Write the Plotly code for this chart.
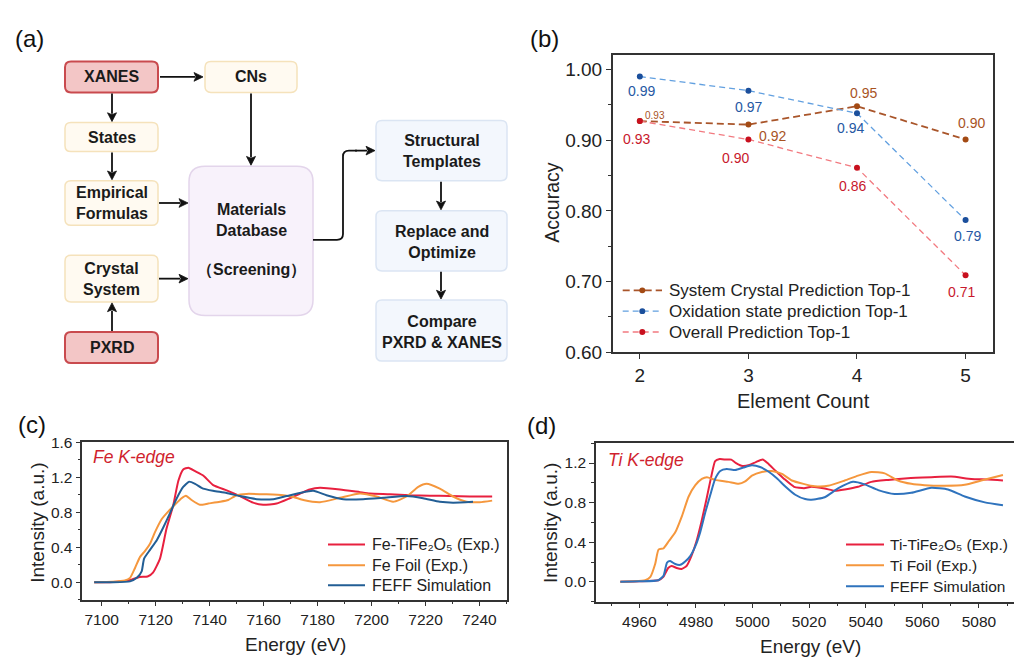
import math
import plotly.graph_objects as go

# ---------------- data ----------------
element_count = [2, 3, 4, 5]
system_crystal = [0.927, 0.922, 0.948, 0.901]
oxidation_state = [0.990, 0.970, 0.938, 0.787]
overall = [0.927, 0.901, 0.861, 0.709]
system_crystal_labels = ["0.93", "0.92", "0.95", "0.90"]
oxidation_labels = ["0.99", "0.97", "0.94", "0.79"]
overall_labels = ["0.93", "0.90", "0.86", "0.71"]

fe_sample_e = [7097.2, 7103, 7107.6, 7111, 7114, 7117, 7119, 7121.6, 7124, 7126.5, 7128.4, 7130.2, 7132.1,
               7134.6, 7137.6, 7141.3, 7146.3, 7151.2, 7156.1, 7159.8, 7164.8, 7169.7, 7173.4, 7177.1,
               7180.9, 7188.3, 7195.7, 7199.4, 7206.8, 7214.2, 7221.6, 7229, 7236.4, 7244.7]
fe_sample_i = [0.0, 0.0, 0.01, 0.03, 0.06, 0.065, 0.11, 0.27, 0.61, 0.88, 1.16, 1.29, 1.31,
               1.27, 1.22, 1.11, 1.05, 0.985, 0.91, 0.885, 0.90, 0.96, 1.01, 1.06,
               1.08, 1.06, 1.03, 1.015, 1.007, 0.995, 0.99, 0.985, 0.98, 0.98]

fe_foil_e = [7097.2, 7104, 7108.6, 7110.5, 7112.3, 7114.2, 7116, 7117.9, 7119.7, 7122.2, 7124.7, 7127.1,
             7129.6, 7131.2, 7133.3, 7136.4, 7139.5, 7143.8, 7146.9, 7150, 7153.7, 7161.1, 7167.3, 7171,
             7174.7, 7180.9, 7188.3, 7195.7, 7201.9, 7208, 7213, 7217.3, 7220.4, 7225.3, 7230.2, 7235.2,
             7240.1, 7244.7]
fe_foil_i = [0.0, 0.005, 0.02, 0.05, 0.16, 0.29, 0.355, 0.44, 0.57, 0.72, 0.81, 0.885,
             0.96, 0.99, 0.94, 0.885, 0.90, 0.92, 0.94, 0.995, 1.01, 1.005, 0.995, 0.975,
             0.94, 0.915, 0.965, 1.015, 0.98, 0.92, 0.98, 1.09, 1.125, 1.07, 0.98, 0.92,
             0.915, 0.933]

fe_feff_e = [7097.2, 7104, 7110.5, 7113, 7114.8, 7115.7, 7117.9, 7120.4, 7122.8, 7125.3, 7127.8, 7130.2,
             7132.4, 7134.6, 7137.6, 7141.3, 7146.3, 7151.2, 7157.4, 7163.6, 7168.5, 7173.4, 7178.4,
             7183.3, 7189.5, 7196.9, 7204.3, 7213, 7219.1, 7225.3, 7230.2, 7237.6]
fe_feff_i = [0.0, 0.0, 0.01, 0.05, 0.125, 0.27, 0.37, 0.48, 0.625, 0.79, 0.96, 1.09,
             1.15, 1.125, 1.07, 1.045, 1.02, 0.985, 0.95, 0.95, 0.985, 1.02, 1.045,
             0.995, 0.95, 0.95, 0.965, 0.985, 0.96, 0.92, 0.91, 0.92]

ti_sample_e = [4953.3, 4960, 4966.7, 4968.5, 4970.2, 4971.4, 4973.2, 4974.9, 4976.7, 4978.4, 4980.2, 4981.9,
               4983.7, 4985.4, 4986.8, 4988.4, 4990.7, 4992.5, 4994.2, 4996.5, 4998.9, 5001.2, 5003.6,
               5005.3, 5008.2, 5011.2, 5014.7, 5018.2, 5020.8, 5025.5, 5029.1, 5032.6, 5037.3, 5042,
               5047.9, 5054.9, 5063.2, 5070.2, 5077.3, 5083.2, 5088.5]
ti_sample_i = [0.0, 0.005, 0.016, 0.05, 0.14, 0.16, 0.14, 0.13, 0.16, 0.26, 0.41, 0.60,
               0.83, 1.06, 1.22, 1.24, 1.235, 1.235, 1.20, 1.17, 1.18, 1.21, 1.235,
               1.20, 1.12, 1.04, 0.96, 0.945, 0.96, 0.943, 0.92, 0.933, 0.96, 1.01,
               1.03, 1.047, 1.057, 1.063, 1.04, 1.034, 1.024]

ti_foil_e = [4953.3, 4958, 4962.1, 4963.9, 4965.6, 4966.8, 4968.6, 4970.4, 4972.7, 4975.1, 4977.4, 4979.8,
             4982.1, 4983.9, 4986.8, 4991.5, 4995.1, 4997.4, 4999.8, 5003.3, 5006.8, 5010.4, 5013.9,
             5018, 5022, 5026.7, 5032.6, 5037.3, 5042, 5046.7, 5051.4, 5056.1, 5060.8, 5067.9, 5075,
             5080.8, 5088.5]
ti_foil_i = [0.0, 0.005, 0.016, 0.05, 0.18, 0.325, 0.34, 0.41, 0.50, 0.667, 0.86, 0.976,
             1.04, 1.057, 1.03, 1.01, 0.99, 1.015, 1.073, 1.11, 1.12, 1.09, 1.024,
             0.99, 0.966, 0.97, 1.024, 1.073, 1.11, 1.096, 1.024, 0.99, 0.976, 0.97, 0.98,
             1.024, 1.08]

ti_feff_e = [4953.3, 4960, 4966.8, 4968.6, 4969.8, 4970.9, 4972.7, 4974.5, 4976.2, 4978, 4979.8, 4981.5,
             4983.3, 4985.1, 4986.8, 4988.6, 4990.9, 4993.9, 4996.8, 4999.8, 5002.7, 5005.6, 5008.6,
             5011.5, 5015.1, 5018.6, 5020.8, 5025.5, 5030.2, 5035.5, 5039.6, 5044.4, 5050.2, 5056.1,
             5063.2, 5069.1, 5075, 5082.1, 5088.5]
ti_feff_i = [0.0, 0.005, 0.016, 0.065, 0.195, 0.21, 0.18, 0.172, 0.205, 0.26, 0.36, 0.50,
             0.70, 0.88, 1.04, 1.12, 1.14, 1.13, 1.155, 1.177, 1.16, 1.115, 1.047,
             0.966, 0.88, 0.836, 0.83, 0.855, 0.943, 1.01, 0.985, 0.927, 0.888, 0.90,
             0.95, 0.933, 0.862, 0.803, 0.774]

# ---------------- helpers ----------------
W, H = 1014, 666
FONT = "Liberation Sans, Arial, sans-serif"
TICKC = "#222222"
AX = "#333333"


def px(x):
    return x / W


def py(y):
    return 1 - y / H


def rrect(x0, y0, x1, y1, r):
    pts = [("M", [(x0 + r, y0)]), ("L", [(x1 - r, y0)]), ("Q", [(x1, y0), (x1, y0 + r)]),
           ("L", [(x1, y1 - r)]), ("Q", [(x1, y1), (x1 - r, y1)]), ("L", [(x0 + r, y1)]),
           ("Q", [(x0, y1), (x0, y1 - r)]), ("L", [(x0, y0 + r)]), ("Q", [(x0, y0), (x0 + r, y0)])]
    s = ""
    for cmd, ps in pts:
        s += cmd + " " + " ".join(f"{px(a):.5f},{py(b):.5f}" for a, b in ps) + " "
    return s + "Z"


def txt(x, y, s, size, angle=0, color=TICKC, bold=False, xanchor="center"):
    return dict(x=px(x), y=py(y), xref="paper", yref="paper", text=(f"<b>{s}</b>" if bold else s),
                showarrow=False, textangle=angle, xanchor=xanchor, yanchor="middle",
                font=dict(size=size, color=color, family=FONT))


fig = go.Figure()
annotations = []
shapes = []

# ---------------- panel (b) ----------------
C_BROWN_L, C_BROWN_M, C_BROWN_T = "#a9552a", "#a34a14", "#a8531f"
C_BLUE_L, C_BLUE_M, C_BLUE_T = "#62a0e0", "#1b4f9c", "#2658a3"
C_RED_L, C_RED_M, C_RED_T = "#f27a80", "#c8101e", "#c8182c"

b_series = [
    ("System Crystal Prediction Top-1", system_crystal, C_BROWN_L, C_BROWN_M, 1.8, "7px,4px"),
    ("Oxidation state prediction Top-1", oxidation_state, C_BLUE_L, C_BLUE_M, 1.3, "6px,4px"),
    ("Overall Prediction Top-1", overall, C_RED_L, C_RED_M, 1.3, "6px,4px"),
]
for name, vals, lc, mc, lw, dash in b_series:
    fig.add_trace(go.Scatter(x=element_count, y=vals, mode="lines+markers", name=name,
                             line=dict(color=lc, width=lw, dash=dash),
                             marker=dict(color=mc, size=6), xaxis="x", yaxis="y", showlegend=False))

blue_off = [(2, -14), (0, -16), (-6, -15), (2, -16)]
brown_off = [(15, 6), (24, -11), (7, 13.5), (6, 16.5)]
red_off = [(-3, -18), (-13, -19), (-4, -18), (-4, -17)]
for i, xv in enumerate(element_count):
    annotations.append(dict(x=xv, y=oxidation_state[i], xref="x", yref="y", text=oxidation_labels[i],
                            showarrow=False, xshift=blue_off[i][0], yshift=blue_off[i][1],
                            xanchor="center", yanchor="middle", font=dict(size=14, color=C_BLUE_T)))
    annotations.append(dict(x=xv, y=system_crystal[i], xref="x", yref="y", text=system_crystal_labels[i],
                            showarrow=False, xshift=brown_off[i][0], yshift=brown_off[i][1],
                            xanchor="center", yanchor="middle",
                            font=dict(size=10 if i == 0 else 14, color=C_BROWN_T)))
    annotations.append(dict(x=xv, y=overall[i], xref="x", yref="y", text=overall_labels[i],
                            showarrow=False, xshift=red_off[i][0], yshift=red_off[i][1],
                            xanchor="center", yanchor="middle", font=dict(size=14, color=C_RED_T)))

# legend of (b), drawn as key samples + labels
for k, (name, vals, lc, mc, lw, dash) in enumerate(b_series):
    yy = [290, 311.5, 333][k]
    shapes.append(dict(type="line", xref="paper", yref="paper", x0=px(622.7), x1=px(662),
                       y0=py(yy), y1=py(yy), line=dict(color=lc, width=lw, dash=dash)))
    shapes.append(dict(type="circle", xref="paper", yref="paper", x0=px(639.3), x1=px(645.3),
                       y0=py(yy + 3), y1=py(yy - 3), fillcolor=mc, line=dict(color=mc, width=0)))
    annotations.append(txt(667, yy, name, 17, xanchor="left"))

# ---------------- panels (c) and (d) ----------------
RED, ORANGE = "#e8203f", "#f5973d"
spec = [
    ("x2", "y2", fe_sample_e, fe_sample_i, RED, "Fe-TiFe₂O₅ (Exp.)"),
    ("x2", "y2", fe_foil_e, fe_foil_i, ORANGE, "Fe Foil (Exp.)"),
    ("x2", "y2", fe_feff_e, fe_feff_i, "#225e95", "FEFF Simulation"),
    ("x3", "y3", ti_sample_e, ti_sample_i, RED, "Ti-TiFe₂O₅ (Exp.)"),
    ("x3", "y3", ti_foil_e, ti_foil_i, ORANGE, "Ti Foil (Exp.)"),
    ("x3", "y3", ti_feff_e, ti_feff_i, "#2f73bd", "FEFF Simulation"),
]
for k, (xa, ya, e, inten, col, name) in enumerate(spec):
    fig.add_trace(go.Scatter(x=e, y=inten, mode="lines", name=name,
                             line=dict(color=col, width=2, shape="spline", smoothing=0.5),
                             xaxis=xa, yaxis=ya, showlegend=False))
    row = k % 3
    if xa == "x2":
        lx0, lx1, tx, yy, fs = 328, 365, 370, [552, 573.5, 594][row], 16
    else:
        lx0, lx1, tx, yy, fs = 846, 884, 888, [552, 573.5, 595][row], 15.5
    shapes.append(dict(type="line", xref="paper", yref="paper", x0=px(lx0), x1=px(lx1),
                       y0=py(yy), y1=py(yy), line=dict(color=col, width=2)))
    annotations.append(txt(tx, yy, name, fs, xanchor="left"))


def axis_common(**kw):
    d = dict(showgrid=False, zeroline=False, showline=True, linecolor=AX, linewidth=1.5,
             ticks="outside", tickcolor=AX, tickwidth=1.3, ticklen=5)
    d.update(kw)
    return d


layout = dict(
    width=W, height=H, margin=dict(l=0, r=0, t=0, b=0),
    paper_bgcolor="white", plot_bgcolor="white",
    font=dict(family=FONT, color=TICKC),
    showlegend=False,
    xaxis=axis_common(domain=[px(612.7), px(992.7)], anchor="y", range=[1.75, 5.25],
                      tickvals=element_count, mirror=True, tickfont=dict(size=19)),
    yaxis=axis_common(domain=[py(354), py(47)], anchor="x", range=[0.6, 1.021], dtick=0.1,
                      tick0=0.6, tickformat=".2f", mirror=True, tickfont=dict(size=19),
                      minor=dict(ticks="outside", dtick=0.05, tick0=0.6, ticklen=3, tickcolor=AX)),
    xaxis2=axis_common(domain=[px(82.3), px(507)], anchor="y2", range=[7092.8, 7250.2], dtick=20,
                       tick0=7100, mirror=True, tickfont=dict(size=15.5),
                       minor=dict(ticks="outside", dtick=10, ticklen=3, tickcolor=AX)),
    yaxis2=axis_common(domain=[py(609), py(446.7)], anchor="x2", range=[-0.2, 1.6], dtick=0.4,
                       tick0=0, tickformat=".1f", mirror=True, tickfont=dict(size=15.5),
                       minor=dict(ticks="outside", dtick=0.2, tick0=0, ticklen=3, tickcolor=AX)),
    xaxis3=axis_common(domain=[px(596), 1.0], anchor="y3", range=[4944.7, 5092.4], dtick=20,
                       tick0=4960, mirror=True, tickfont=dict(size=15.5),
                       minor=dict(ticks="outside", dtick=10, ticklen=3, tickcolor=AX)),
    yaxis3=axis_common(domain=[py(611), py(447.7)], anchor="x3", range=[-0.2, 1.4], dtick=0.4,
                       tick0=0, tickformat=".1f", mirror=False, tickfont=dict(size=15.5),
                       minor=dict(ticks="outside", dtick=0.2, tick0=0, ticklen=3, tickcolor=AX)),
)

annotations += [
    txt(551.7, 200, "Accuracy", 19.5, angle=-90),
    txt(803, 404, "Element Count", 20),
    txt(36.7, 530, "Intensity (a.u.)", 19, angle=-90),
    txt(295.7, 655, "Energy (eV)", 19),
    txt(550, 530, "Intensity (a.u.)", 19, angle=-90),
    txt(810, 657, "Energy (eV)", 19),
    txt(29, 30, "(a)", 24, color="#111111"),
    txt(544, 30, "(b)", 24, color="#111111"),
    txt(32, 428, "(c)", 24, color="#111111"),
    txt(541, 429, "(d)", 24, color="#111111"),
    txt(91, 462, "<i>Fe K-edge</i>", 17.5, color="#d01f2e", xanchor="left"),
    txt(606, 465, "<i>Ti K-edge</i>", 17.5, color="#d01f2e", xanchor="left"),
]

# ---------------- panel (a): flowchart ----------------
RED_FILL, RED_LINE = "#f3c6c6", "#c94a4e"
CREAM_FILL, CREAM_LINE = "#fffaf1", "#f5e2bb"
LAV_FILL, LAV_LINE = "#f8f2fb", "#e3d5eb"
BLUE_FILL, BLUE_LINE = "#f3f7fd", "#dbe5f3"

boxes = [
    (65, 54, 158, 86, RED_FILL, RED_LINE, 2.0, "XANES", 70),
    (205, 54, 297, 86, CREAM_FILL, CREAM_LINE, 1.5, "CNs", 70),
    (65, 117, 158, 147, CREAM_FILL, CREAM_LINE, 1.5, "States", 132),
    (65, 177, 158, 223, CREAM_FILL, CREAM_LINE, 1.5, "Empirical<br>Formulas", 200.5),
    (65, 254, 158, 302, CREAM_FILL, CREAM_LINE, 1.5, "Crystal<br>System", 278.5),
    (65, 333, 158, 365, RED_FILL, RED_LINE, 2.0, "PXRD", 349),
    (189, 162, 313, 316, LAV_FILL, LAV_LINE, 1.5, "Materials<br>Database", 218),
    (376, 115, 507, 177, BLUE_FILL, BLUE_LINE, 1.5, "Structural<br>Templates", 146.5),
    (376, 208, 507, 270, BLUE_FILL, BLUE_LINE, 1.5, "Replace and<br>Optimize", 240),
    (376, 300, 507, 363, BLUE_FILL, BLUE_LINE, 1.5, "Compare<br>PXRD &amp; XANES", 333),
]
for (x0, y0, x1, y1, fc, lc, lw, label, ty) in boxes:
    r = 16 if (x1 - x0) > 110 and (y1 - y0) > 100 else 6
    shapes.append(dict(type="path", xref="paper", yref="paper", path=rrect(x0, y0, x1, y1, r),
                       fillcolor=fc, line=dict(color=lc, width=lw), layer="below"))
    annotations.append(dict(x=px((x0 + x1) / 2), y=py(ty), xref="paper", yref="paper",
                            text=f"<b>{label}</b>", showarrow=False, xanchor="center", yanchor="middle",
                            font=dict(size=16, color="#1a1a1a", family=FONT)))
annotations.append(dict(x=px(251), y=py(269), xref="paper", yref="paper", text="<b>（Screening）</b>",
                        showarrow=False, xanchor="center", yanchor="middle",
                        font=dict(size=16, color="#1a1a1a", family=FONT)))

ARROW_C = "#111111"


def arrow(tx, ty, hx, hy):
    dx, dy = hx - tx, hy - ty
    n = math.hypot(dx, dy)
    ux, uy = dx / n, dy / n
    L, hw = 9, 4.5
    bx, by = hx - ux * L, hy - uy * L
    shapes.append(dict(type="line", xref="paper", yref="paper", x0=px(tx), y0=py(ty),
                       x1=px(bx + ux), y1=py(by + uy), line=dict(color=ARROW_C, width=1.8)))
    p1 = (bx - uy * hw, by + ux * hw)
    p2 = (bx + uy * hw, by - ux * hw)
    path = (f"M {px(hx):.5f},{py(hy):.5f} L {px(p1[0]):.5f},{py(p1[1]):.5f} "
            f"L {px(bx + ux * 2):.5f},{py(by + uy * 2):.5f} L {px(p2[0]):.5f},{py(p2[1]):.5f} Z")
    shapes.append(dict(type="path", xref="paper", yref="paper", path=path, fillcolor=ARROW_C,
                       line=dict(color=ARROW_C, width=0.8)))


arrow(160, 70, 203, 70)
arrow(112, 87, 112, 116)
arrow(112, 148, 112, 176)
arrow(159, 200, 188, 200)
arrow(159, 278, 188, 278)
arrow(112, 332, 112, 303)
arrow(251, 87, 251, 161)
arrow(355, 146, 375, 146)
arrow(441, 178, 441, 207)
arrow(441, 271, 441, 299)

# elbow connector from Materials Database to Structural Templates
elbow = (f"M {px(313):.5f},{py(238):.5f} L {px(337):.5f},{py(238):.5f} "
         f"Q {px(343):.5f},{py(238):.5f} {px(343):.5f},{py(232):.5f} "
         f"L {px(343):.5f},{py(152):.5f} Q {px(343):.5f},{py(146):.5f} {px(349):.5f},{py(146):.5f} "
         f"L {px(357):.5f},{py(146):.5f}")
shapes.append(dict(type="path", xref="paper", yref="paper", path=elbow,
                   line=dict(color=ARROW_C, width=1.8)))

layout["annotations"] = annotations
layout["shapes"] = shapes
fig.update_layout(**layout)

fig.write_html("out.html", post_script="document.body.style.margin='0';document.body.style.padding='0';")
